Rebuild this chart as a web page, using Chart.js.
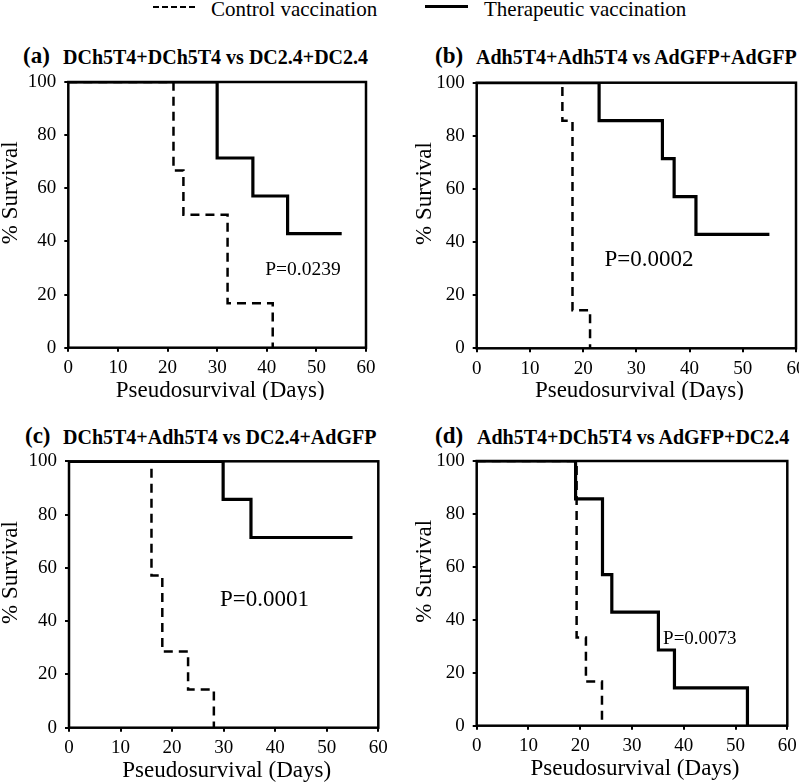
<!DOCTYPE html>
<html>
<head>
<meta charset="utf-8">
<script src="https://cdn.jsdelivr.net/npm/chart.js@4"></script>
<style>
body { margin: 0; background: #fff; }
#page { position: relative; width: 799px; height: 783px; overflow: hidden; font-family: "Liberation Serif", "Times New Roman", serif; color: #000; }
canvas { position: absolute; }
.lbl { position: absolute; white-space: nowrap; line-height: 1; }
.b { font-weight: bold; }
.dash { position: absolute; height: 0; border-top: 2px dashed #000; }
.solid { position: absolute; height: 3px; background: #000; }
</style>
</head>
<body>
<div id="page">
  <div class="dash" style="left:153px;top:6px;width:42px;"></div>
  <div class="lbl" style="left:211px;top:-1.5px;font-size:21px;">Control vaccination</div>
  <div class="solid" style="left:425px;top:5px;width:43px;"></div>
  <div class="lbl" style="left:484px;top:-1.5px;font-size:21px;">Therapeutic vaccination</div>

  <div class="lbl b" style="left:23px;top:44px;font-size:23px;">(a)</div>
  <div class="lbl b" style="left:63px;top:46.5px;font-size:20px;">DCh5T4+DCh5T4 vs DC2.4+DC2.4</div>
  <div class="lbl b" style="left:435px;top:44px;font-size:23px;">(b)</div>
  <div class="lbl b" style="left:476px;top:46.5px;font-size:20px;">Adh5T4+Adh5T4 vs AdGFP+AdGFP</div>
  <div class="lbl b" style="left:25px;top:424px;font-size:23px;">(c)</div>
  <div class="lbl b" style="left:63px;top:426.5px;font-size:20px;">DCh5T4+Adh5T4 vs DC2.4+AdGFP</div>
  <div class="lbl b" style="left:435px;top:424px;font-size:23px;">(d)</div>
  <div class="lbl b" style="left:477px;top:426.5px;font-size:20px;">Adh5T4+DCh5T4 vs AdGFP+DC2.4</div>

  <canvas id="ca" width="400" height="370" style="left:0;top:30px;"></canvas>
  <canvas id="cb" width="399" height="370" style="left:400px;top:30px;"></canvas>
  <canvas id="cc" width="400" height="383" style="left:0;top:400px;"></canvas>
  <canvas id="cd" width="399" height="383" style="left:400px;top:400px;"></canvas>
</div>
<script>
// (a) DCh5T4+DCh5T4 vs DC2.4+DC2.4
const aCtrlDays = [0, 21.2, 23.2, 32.1, 41.2];
const aCtrlSurv = [100, 66.7, 50, 16.7, 0];
const aTherDays = [0, 30, 37.2, 44.2, 55.1];
const aTherSurv = [100, 71.4, 57.1, 42.9, 42.9];
// (b) Adh5T4+Adh5T4 vs AdGFP+AdGFP
const bCtrlDays = [0, 16.1, 18.0, 21.3];
const bCtrlSurv = [100, 85.7, 14.3, 0];
const bTherDays = [0, 23.0, 34.9, 37.1, 41.2, 55.0];
const bTherSurv = [100, 85.7, 71.4, 57.1, 42.9, 42.9];
// (c) DCh5T4+Adh5T4 vs DC2.4+AdGFP
const cCtrlDays = [0, 16.0, 18.1, 23.1, 28.1];
const cCtrlSurv = [100, 57.1, 28.6, 14.3, 0];
const cTherDays = [0, 29.9, 35.3, 55.0];
const cTherSurv = [100, 85.7, 71.4, 71.4];
// (d) Adh5T4+DCh5T4 vs AdGFP+DC2.4
const dCtrlDays = [0, 19.3, 21.1, 24.2];
const dCtrlSurv = [100, 33.3, 16.7, 0];
const dTherDays = [0, 19.1, 24.3, 26.1, 35.1, 38.2, 52.3];
const dTherSurv = [100, 85.7, 57.1, 42.9, 28.6, 14.3, 0];

const pValues = ['P=0.0239', 'P=0.0002', 'P=0.0001', 'P=0.0073'];
const xTicks = [0, 10, 20, 30, 40, 50, 60];
const yTicks = [0, 20, 40, 60, 80, 100];
const xTitle = 'Pseudosurvival (Days)';
const yTitle = '% Survival';

const FONT = '"Liberation Serif", "Times New Roman", serif';

const panels = [
  { id: 'ca', ctrl: [aCtrlDays, aCtrlSurv], ther: [aTherDays, aTherSurv], pad: { top: 52, right: 34 }, yW: 68.3, xH: 52.3, p: { x: 39.7, y: 29.2, size: 19.5 }, yGap: 57 },
  { id: 'cb', ctrl: [bCtrlDays, bCtrlSurv], ther: [bTherDays, bTherSurv], pad: { top: 52.7, right: 3 }, yW: 76.7, xH: 51.7, p: { x: 24.0, y: 33.2, size: 23 }, yGap: 52 },
  { id: 'cc', ctrl: [cCtrlDays, cCtrlSurv], ther: [cTherDays, cTherSurv], pad: { top: 61.3, right: 21.7 }, yW: 69, xH: 55.3, p: { x: 29.3, y: 47.9, size: 23 }, yGap: 58 },
  { id: 'cd', ctrl: [dCtrlDays, dCtrlSurv], ther: [dTherDays, dTherSurv], pad: { top: 61, right: 11.7 }, yW: 76.7, xH: 57.3, p: { x: 36.0, y: 32.6, size: 19 }, yGap: 52 }
];

const extras = {
  id: 'extras',
  afterDraw(chart, args, o) {
    const { ctx, chartArea: a, scales } = chart;
    ctx.save();
    ctx.strokeStyle = '#000';
    ctx.lineWidth = 2.5;
    ctx.strokeRect(a.left, a.top, a.right - a.left, a.bottom - a.top);
    ctx.fillStyle = '#000';
    ctx.font = o.pSize + 'px ' + FONT;
    ctx.textAlign = 'left';
    ctx.textBaseline = 'middle';
    ctx.fillText(o.pText, scales.x.getPixelForValue(o.pX), scales.y.getPixelForValue(o.pY));
    ctx.font = '23px ' + FONT;
    ctx.textAlign = 'center';
    ctx.textBaseline = 'alphabetic';
    ctx.fillText(xTitle, (a.left + a.right) / 2 + 3, a.bottom + 49);
    ctx.translate(a.left - o.yGap, (a.top + a.bottom) / 2 - 22);
    ctx.rotate(-Math.PI / 2);
    ctx.textBaseline = 'middle';
    ctx.fillText(yTitle, 0, 0);
    ctx.restore();
  }
};

function toPoints(days, surv) {
  return days.map((d, i) => ({ x: d, y: surv[i] }));
}

panels.forEach((p, i) => {
  new Chart(document.getElementById(p.id), {
    type: 'line',
    data: {
      datasets: [
        { label: 'Control vaccination', data: toPoints(p.ctrl[0], p.ctrl[1]), stepped: 'before', borderColor: '#000', borderWidth: 2.5, borderDash: [9, 6], pointRadius: 0, fill: false },
        { label: 'Therapeutic vaccination', data: toPoints(p.ther[0], p.ther[1]), stepped: 'before', borderColor: '#000', borderWidth: 3.2, pointRadius: 0, fill: false }
      ]
    },
    options: {
      responsive: false,
      animation: false,
      devicePixelRatio: 1,
      layout: { padding: { left: 0, top: p.pad.top, right: p.pad.right, bottom: 0 } },
      plugins: {
        legend: { display: false },
        tooltip: { enabled: false },
        extras: { pText: pValues[i], pX: p.p.x, pY: p.p.y, pSize: p.p.size, yGap: p.yGap }
      },
      scales: {
        x: {
          type: 'linear', min: 0, max: 60,
          afterBuildTicks: s => { s.ticks = xTicks.map(v => ({ value: v })); },
          ticks: { color: '#000', font: { family: FONT, size: 19 }, padding: 5, maxRotation: 0, autoSkip: false },
          grid: { drawOnChartArea: false, tickLength: 4, color: '#000', lineWidth: 2 },
          border: { display: false },
          afterFit: s => { s.height = p.xH; s.paddingLeft = 0; s.paddingRight = 0; }
        },
        y: {
          type: 'linear', min: 0, max: 100,
          afterBuildTicks: s => { s.ticks = yTicks.map(v => ({ value: v })); },
          ticks: { color: '#000', font: { family: FONT, size: 19 }, padding: 8 },
          grid: { drawOnChartArea: false, tickLength: 4, color: '#000', lineWidth: 2 },
          border: { display: false },
          afterFit: s => { s.width = p.yW; s.paddingTop = 0; s.paddingBottom = 0; }
        }
      }
    },
    plugins: [extras]
  });
});
</script>
</body>
</html>
